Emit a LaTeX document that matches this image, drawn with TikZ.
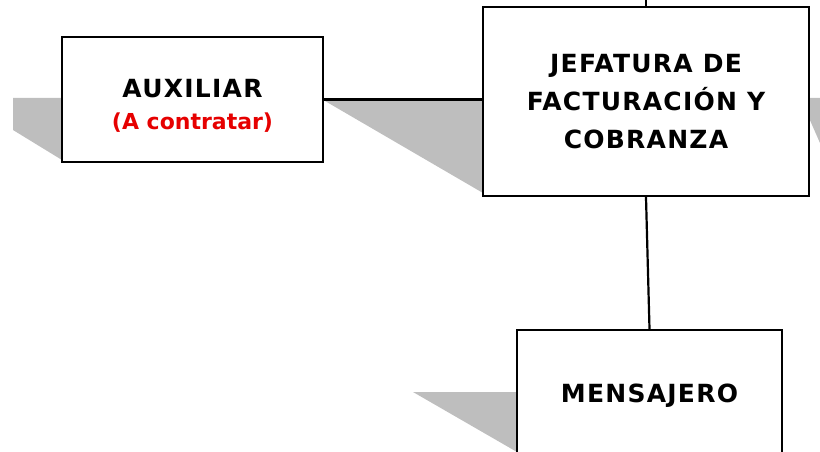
\documentclass[tikz,border=0pt]{standalone}
\usepackage{fontspec}
\setmainfont{DejaVu Sans}
\newfontfamily\labelfont[LetterSpace=5]{DejaVu Sans}
\definecolor{shade}{RGB}{190,190,190}
\definecolor{accent}{RGB}{230,0,0}
\tikzset{
  unit/.style={box/.style={draw=black, line width=2.4pt, fill=white, inner sep=0pt,
    align=center, font=\labelfont\bfseries\fontsize{25}{38}\selectfont}},
  link/.style={draw=black, line width=2.2pt},
  shadow/.style={fill=shade, draw=none}
}
\newcommand\notefont{\normalfont\bfseries\fontsize{22}{32}\selectfont\color{accent}}
\begin{document}
\begin{tikzpicture}[x=1pt, y=-1pt, unit]
  \useasboundingbox (0,0) rectangle (820,452);
  \clip (0,0) rectangle (820,452);

  % grey wedges behind the boxes
  \path[shadow] (13,98) -- (62,98) -- (62,160) -- (13,130) -- cycle;
  \path[shadow] (325,101) -- (483,101) -- (483,193) -- cycle;
  \path[shadow] (809,98) -- (820,98) -- (820,143) -- (809,118) -- cycle;
  \path[shadow] (413,392) -- (517,392) -- (517,452) -- cycle;

  % boxes
  \node[box, minimum width=261pt, minimum height=125pt] (aux) at (192.5,99.5)
    {\rule{0pt}{31pt}AUXILIAR\\[-6pt]{\notefont(A contratar)}};
  \node[box, minimum width=326pt, minimum height=189pt] (jef) at (646,101.5)
    {JEFATURA DE\\FACTURACIÓN Y\\COBRANZA};
  \node[box, minimum width=265pt, minimum height=126pt] (men) at (649.5,393)
    {\rule{0pt}{25pt}MENSAJERO};

  % connectors
  \coordinate (top) at (646,0);
  \draw[link] (jef.north) -- (top);
  \draw[link] (aux.east) -- (aux.east -| jef.west);
  \draw[link] (jef.south) -- (men.north);
\end{tikzpicture}
\end{document}
